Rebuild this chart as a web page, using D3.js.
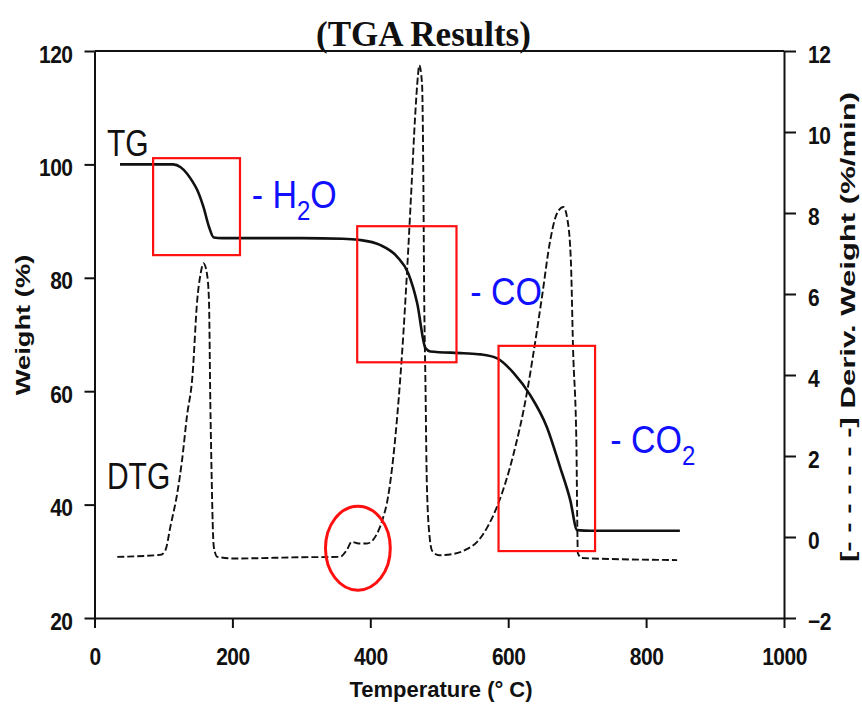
<!DOCTYPE html>
<html><head><meta charset="utf-8">
<script src="https://cdn.jsdelivr.net/npm/d3@7"></script>
<style>body{margin:0;background:#fff}</style>
</head><body>
<svg id="c" width="862" height="707"></svg>
<script>
// ---- data ----
const tgTemp   = [37,100,114,125,134,142,149,158,166,173,185,200,300,360,383,414,439,455,468,480,487,535,560,584,608,632,656,675,690,700,720,849];
const tgWeight = [100,100,100,99.5,98.4,97,95.5,92.5,89,87.1,87,87,87,86.9,86.7,85.8,83.7,80.8,75.5,67.6,67,66.7,66.5,65.8,63.2,59.3,53.7,46.7,40.8,35.5,35.4,35.4];
const dtgTemp  = [33,96,103,110,120,127,134,142,149,154,158,163,166,168,169,173,178,202,300,356,366,373,383,395,410,419,424,439,448,455,460,465,469,471,475,477,478,480,482,486,490,500,520,540,555,570,585,607,627,636,649,661,671,680,686,691,694,699,700,701,707,845];
const dtgDeriv = [-0.49,-0.44,-0.32,0.25,1.08,1.9,2.97,3.96,5.85,6.51,6.76,6.51,5.85,3.3,2.31,-0.24,-0.49,-0.53,-0.5,-0.49,-0.32,-0.12,-0.16,-0.16,0.09,0.5,0.83,2.97,5.03,7.09,8.73,10.38,11.37,11.65,11.2,8.73,6.26,3.79,1.33,0.01,-0.35,-0.45,-0.42,-0.3,-0.12,0.25,0.8,2.0,3.55,4.47,5.93,7.33,8.0,8.15,7.83,6.77,4.69,2.22,0.59,-0.4,-0.52,-0.57];
const xTicks      = [0,200,400,600,800,1000];
const yLeftTicks  = [20,40,60,80,100,120];
const yRightTicks = [-2,0,2,4,6,8,10,12];
// annotation boxes (data units)
const boxTempStart   = [85,381,586];
const boxTempEnd     = [211,525,726];
const boxWeightTop   = [101.1,89.1,68.0];
const boxWeightBottom= [84.0,65.1,31.8];
const boxLabels      = ["H", "CO", "CO"];
const boxLabelSub    = ["2O", "", "2"];
const labelTemp      = [228,545,748];
const labelWeight    = [92.3,75.2,49.1];
// circled feature
const markTemp = 382, markWeight = 32.3, markTempR = 47, markWeightR = 7.4;

// ---- chart ----
const svg = d3.select('#c');
const sans = "'Liberation Sans', Arial, Helvetica, sans-serif";
const serif = "'Liberation Serif', 'Times New Roman', serif";
const x  = d3.scaleLinear().domain([0,1000]).range([94.5,784]);
const yL = d3.scaleLinear().domain([20,120]).range([618,51]);
const yR = d3.scaleLinear().domain([-2,12]).range([618,51]);

function styleAxis(g){
  g.selectAll('path,line').attr('stroke','#111').attr('stroke-width',2);
  g.selectAll('text').attr('font-family',sans).attr('font-weight','bold')
    .attr('font-size',21).attr('fill','#111').attr('letter-spacing',-0.5);
}
const gB = svg.append('g').attr('transform','translate(0,618)')
  .call(d3.axisBottom(x).tickValues(xTicks).tickSize(10).tickSizeOuter(0).tickFormat(d3.format('d')));
styleAxis(gB);
gB.selectAll('text').attr('y',41).attr('dy',0).attr('transform','scale(1,1.15)');

const gL = svg.append('g').attr('transform',`translate(${x(0)},0)`)
  .call(d3.axisLeft(yL).tickValues(yLeftTicks).tickSize(10).tickSizeOuter(0).tickPadding(13));
styleAxis(gL);
gL.selectAll('text').attr('x',-22).attr('y',9.6).attr('dy',0).attr('transform','scale(1,1.15)');

const gR = svg.append('g').attr('transform',`translate(${x(1000)},0)`)
  .call(d3.axisRight(yR).tickValues(yRightTicks).tickSize(12).tickSizeOuter(0));
styleAxis(gR);
gR.selectAll('text').attr('x',24).attr('y',10.4).attr('dy',0).attr('transform','scale(1,1.15)');

// top frame
svg.append('line').attr('x1',x(0)).attr('x2',x(1000)).attr('y1',yL(120)).attr('y2',yL(120))
  .attr('stroke','#111').attr('stroke-width',2);

// curves
const tgData = tgTemp.map((t,i)=>[t,tgWeight[i]]);
const dtgData = dtgTemp.map((t,i)=>[t,dtgDeriv[i]]);
svg.append('path').datum(dtgData)
  .attr('d', d3.line().x(d=>x(d[0])).y(d=>yR(d[1])).curve(d3.curveMonotoneX))
  .attr('fill','none').attr('stroke','#111').attr('stroke-width',1.9).attr('stroke-dasharray','7,3');
svg.append('path').datum(tgData)
  .attr('d', d3.line().x(d=>x(d[0])).y(d=>yL(d[1])).curve(d3.curveMonotoneX))
  .attr('fill','none').attr('stroke','#111').attr('stroke-width',2.6);

// boxes
svg.selectAll('rect.box').data(boxTempStart).enter().append('rect')
  .attr('x',(d)=>x(d)).attr('y',(d,i)=>yL(boxWeightTop[i]))
  .attr('width',(d,i)=>x(boxTempEnd[i])-x(d))
  .attr('height',(d,i)=>yL(boxWeightBottom[i])-yL(boxWeightTop[i]))
  .attr('fill','none').attr('stroke','#ff1010').attr('stroke-width',2.2);

// circle
svg.append('ellipse').attr('cx',x(markTemp)).attr('cy',yL(markWeight))
  .attr('rx',x(markTemp+markTempR)-x(markTemp)).attr('ry',yL(markWeight-markWeightR)-yL(markWeight))
  .attr('fill','none').attr('stroke','#ff1010').attr('stroke-width',3);

// blue labels
boxLabels.forEach((lab,i)=>{
  const t = svg.append('text')
    .attr('transform',`translate(${x(labelTemp[i])},${yL(labelWeight[i])}) scale(1,1.15)`)
    .attr('font-family',sans).attr('font-size',34).attr('fill','#1010ff');
  t.append('tspan').text('- '+lab);
  const sub = boxLabelSub[i];
  if(sub.startsWith('2')){
    t.append('tspan').attr('font-size',24).attr('dy',10.4).text('2');
    if(sub.length>1) t.append('tspan').attr('font-size',34).attr('dy',-10.4).text(sub.slice(1));
  }
});

// TG / DTG labels
[['TG',18,101.5],['DTG',18,42.8]].forEach(([s,t,w])=>{
  svg.append('text').attr('transform',`translate(${x(t)},${yL(w)}) scale(1,1.2)`)
    .attr('font-family',sans).attr('font-size',30).attr('fill','#111').text(s);
});

// title
svg.append('text').attr('x',316).attr('y',46).attr('font-family',serif).attr('font-weight','bold')
  .attr('font-size',35).attr('fill','#111').text('(TGA Results)');

// axis titles
svg.append('text').attr('x',441).attr('y',697).attr('text-anchor','middle')
  .attr('font-family',sans).attr('font-weight','bold').attr('font-size',22)
  .attr('fill','#111').text('Temperature (° C)');
svg.append('text').attr('transform','translate(30,325) rotate(-90) scale(1.3,1)')
  .attr('text-anchor','middle').attr('font-family',sans).attr('font-weight','bold').attr('font-size',21)
  .attr('fill','#111').text('Weight (%)');
svg.append('text').attr('transform','translate(855,327) rotate(-90) scale(1.48,1)')
  .attr('text-anchor','middle').attr('font-family',sans).attr('font-weight','bold').attr('font-size',21)
  .attr('fill','#111').text('[- - - - - - -] Deriv. Weight (%/min)');
</script>
</body></html>
